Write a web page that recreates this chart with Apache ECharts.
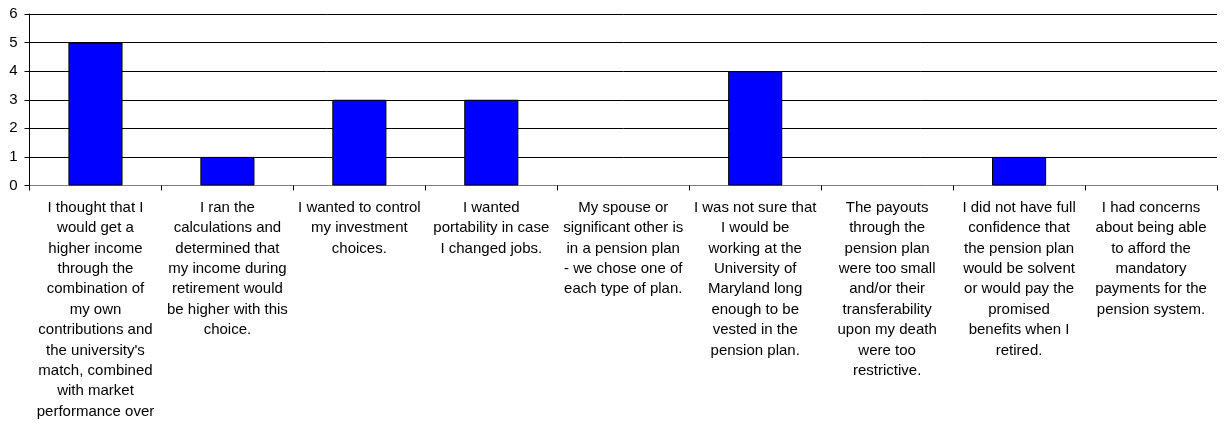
<!DOCTYPE html>
<html>
<head>
<meta charset="utf-8">
<script src="https://cdn.jsdelivr.net/npm/echarts@6/dist/echarts.min.js"></script>
<style>
  html, body { margin: 0; padding: 0; background: #fff; }
  #chart { width: 1225px; height: 423px; }
</style>
</head>
<body>
<div id="chart"></div>
<script>
// Reasons given for choosing the optional retirement plan (number of responses)
const categories = [
  "I thought that I\nwould get a\nhigher income\nthrough the\ncombination of\nmy own\ncontributions and\nthe university's\nmatch, combined\nwith market\nperformance over",
  "I ran the\ncalculations and\ndetermined that\nmy income during\nretirement would\nbe higher with this\nchoice.",
  "I wanted to control\nmy investment\nchoices.",
  "I wanted\nportability in case\nI changed jobs.",
  "My spouse or\nsignificant other is\nin a pension plan\n- we chose one of\neach type of plan.",
  "I was not sure that\nI would be\nworking at the\nUniversity of\nMaryland long\nenough to be\nvested in the\npension plan.",
  "The payouts\nthrough the\npension plan\nwere too small\nand/or their\ntransferability\nupon my death\nwere too\nrestrictive.",
  "I did not have full\nconfidence that\nthe pension plan\nwould be solvent\nor would pay the\npromised\nbenefits when I\nretired.",
  "I had concerns\nabout being able\nto afford the\nmandatory\npayments for the\npension system."
];
const responses = [5, 1, 3, 3, 0, 4, 0, 1, 0];
const yTicks = [0, 1, 2, 3, 4, 5, 6];

const chart = echarts.init(document.getElementById('chart'), null, { renderer: 'canvas' });

// Empty categories get no outline so nothing is drawn on the baseline
const barData = responses.map(v => (v === 0 ? { value: v, itemStyle: { borderWidth: 0 } } : v));

chart.setOption({
  animation: false,
  backgroundColor: '#ffffff',
  grid: {
    left: 29.5,
    right: 8,
    top: 14,
    bottom: 237.5,
    containLabel: false,
    outerBoundsMode: 'none'
  },
  xAxis: {
    type: 'category',
    data: categories,
    boundaryGap: true,
    axisLine: { show: true, lineStyle: { color: '#808080', width: 1 } },
    axisTick: { show: true, length: 5, interval: 0, lineStyle: { color: '#000' } },
    axisLabel: {
      interval: 0,
      margin: 12,
      color: '#000',
      fontFamily: 'Liberation Sans, Arial, sans-serif',
      fontSize: 15,
      lineHeight: 20.4,
      align: 'center',
      verticalAlign: 'top'
    },
    splitLine: { show: false }
  },
  yAxis: {
    type: 'value',
    min: yTicks[0],
    max: yTicks[yTicks.length - 1],
    interval: 1,
    axisLine: { show: true, lineStyle: { color: '#000', width: 1 } },
    axisTick: { show: true, length: 5, inside: false, lineStyle: { color: '#000' } },
    axisLabel: {
      margin: 12,
      color: '#000',
      fontFamily: 'Liberation Sans, Arial, sans-serif',
      fontSize: 15
    },
    splitLine: { show: true, lineStyle: { color: '#000', width: 1 } }
  },
  series: [{
    type: 'bar',
    data: barData,
    barWidth: '41%',
    itemStyle: {
      color: '#0000ff',
      borderColor: '#000',
      borderWidth: 1
    }
  }]
});
</script>
</body>
</html>
